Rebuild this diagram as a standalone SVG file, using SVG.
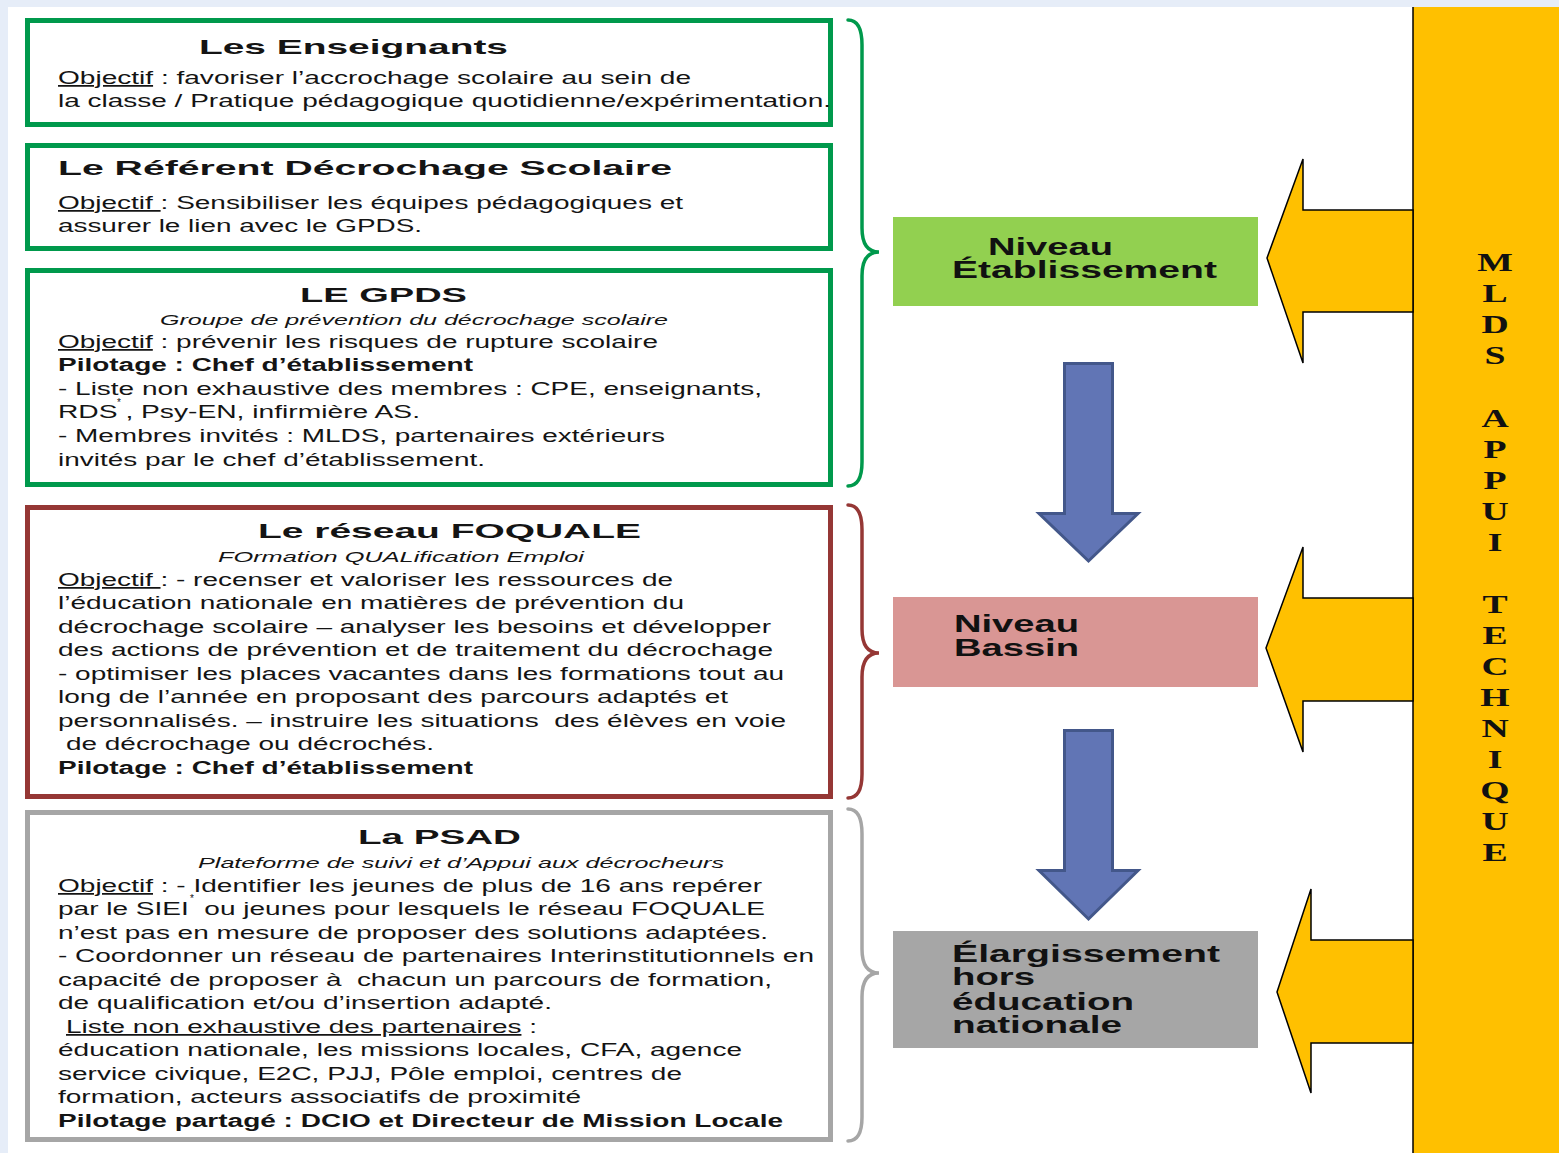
<svg xmlns="http://www.w3.org/2000/svg" width="1559" height="1153" viewBox="0 0 1559 1153">
<style>
.t{font-family:"Liberation Sans",Arial,sans-serif;fill:#141414}
.b{font-size:17.5px}
.h{font-size:21px;font-weight:bold}
.i{font-size:15px;font-style:italic}
.bd{font-weight:bold}
.u{text-decoration:underline}
.ast{font-size:10px}
.lvl{font-family:"Liberation Sans",Arial,sans-serif;font-size:23px;font-weight:bold;fill:#111}
.m{font-family:"Liberation Serif","Times New Roman",serif;font-size:26px;font-weight:bold;fill:#111;text-anchor:middle}
.box{fill:#fff;stroke-width:5}
.g{stroke:#00994C}
.r{stroke:#953735}
.gr{stroke:#A6A6A6}
.brace{fill:none;stroke-width:3.5;stroke-linecap:round}
.blue{fill:#6175B5;stroke:#43578A;stroke-width:3}
.yel{fill:#FFC000;stroke:#000;stroke-width:1.5}
</style>
<rect x="0" y="0" width="1559" height="1153" fill="#E6EDF8"/>
<rect x="8" y="7" width="1551" height="1146" fill="#fff"/>
<g id="mlds">
<rect x="1413" y="7" width="146" height="1146" fill="#FFC000"/>
<line x1="1413" y1="7" x2="1413" y2="1153" stroke="#000" stroke-width="1.5"/>
<g transform="translate(1495 0) scale(1.45 1)">
<text class="m" x="0" y="271">M</text>
<text class="m" x="0" y="302">L</text>
<text class="m" x="0" y="333">D</text>
<text class="m" x="0" y="364">S</text>
<text class="m" x="0" y="427">A</text>
<text class="m" x="0" y="458">P</text>
<text class="m" x="0" y="489">P</text>
<text class="m" x="0" y="520">U</text>
<text class="m" x="0" y="551">I</text>
<text class="m" x="0" y="613">T</text>
<text class="m" x="0" y="644">E</text>
<text class="m" x="0" y="675">C</text>
<text class="m" x="0" y="706">H</text>
<text class="m" x="0" y="737">N</text>
<text class="m" x="0" y="768">I</text>
<text class="m" x="0" y="799">Q</text>
<text class="m" x="0" y="830">U</text>
<text class="m" x="0" y="861">E</text>
</g>
</g>
<g id="connectors">
<path class="brace" stroke="#00994C" d="M848,20 Q862,20 862,45 L862,228 Q862,252 879,252 Q862,252 862,276 L862,462 Q862,486 848,486"/>
<path class="brace" stroke="#953735" d="M848,505 Q862,505 862,530 L862,629 Q862,653 879,653 Q862,653 862,677 L862,774 Q862,798 848,798"/>
<path class="brace" stroke="#A6A6A6" d="M848,809 Q862,809 862,834 L862,949 Q862,973 879,973 Q862,973 862,997 L862,1117 Q862,1141 848,1141"/>
<polygon class="blue" points="1064.5,363.5 1112.5,363.5 1112.5,513.5 1138,513.5 1088.5,561 1039,513.5 1064.5,513.5"/>
<polygon class="blue" points="1064.5,730.5 1112.5,730.5 1112.5,870.5 1138,870.5 1088.5,919 1039,870.5 1064.5,870.5"/>
<polygon class="yel" points="1413,210 1303,210 1303,159 1267,258 1303,363 1303,312 1413,312"/>
<polygon class="yel" points="1413,598 1303,598 1303,547 1266,648 1303,752 1303,701 1413,701"/>
<polygon class="yel" points="1413,940 1311,940 1311,889 1277,992 1311,1093 1311,1043 1413,1043"/>
</g>
<g id="n-enseignants">
<rect class="box g" x="27.5" y="20.5" width="803" height="104"/>
<text class="t h" x="199" y="54" textLength="309" lengthAdjust="spacingAndGlyphs">Les Enseignants</text>
<text class="t b" x="58" y="84" textLength="633" lengthAdjust="spacingAndGlyphs"><tspan class="u">Objectif</tspan> : favoriser l’accrochage scolaire au sein de</text>
<text class="t b" x="58" y="107" textLength="773" lengthAdjust="spacingAndGlyphs">la classe / Pratique pédagogique quotidienne/expérimentation.</text>
</g>
<g id="n-referent">
<rect class="box g" x="27.5" y="145.5" width="803" height="103"/>
<text class="t h" x="58" y="175" textLength="614" lengthAdjust="spacingAndGlyphs">Le Référent Décrochage Scolaire</text>
<text class="t b" x="58" y="209" textLength="625" lengthAdjust="spacingAndGlyphs"><tspan class="u">Objectif </tspan>: Sensibiliser les équipes pédagogiques et</text>
<text class="t b" x="58" y="232" textLength="364" lengthAdjust="spacingAndGlyphs">assurer le lien avec le GPDS.</text>
</g>
<g id="n-gpds">
<rect class="box g" x="27.5" y="270.5" width="803" height="214"/>
<text class="t h" x="300" y="302" textLength="167" lengthAdjust="spacingAndGlyphs">LE GPDS</text>
<text class="t i" x="160" y="325" textLength="508" lengthAdjust="spacingAndGlyphs">Groupe de prévention du décrochage scolaire</text>
<text class="t b" x="58" y="348" textLength="600" lengthAdjust="spacingAndGlyphs"><tspan class="u">Objectif</tspan> : prévenir les risques de rupture scolaire</text>
<text class="t b bd" x="58" y="371" textLength="415" lengthAdjust="spacingAndGlyphs">Pilotage : Chef d’établissement</text>
<text class="t b" x="58" y="395" textLength="704" lengthAdjust="spacingAndGlyphs">- Liste non exhaustive des membres : CPE, enseignants,</text>
<text class="t ast" x="117" y="406">*</text>
<text class="t b" x="58" y="418" textLength="362" lengthAdjust="spacingAndGlyphs">RDS , Psy-EN, infirmière AS.</text>
<text class="t b" x="58" y="442" textLength="607" lengthAdjust="spacingAndGlyphs">- Membres invités : MLDS, partenaires extérieurs</text>
<text class="t b" x="58" y="466" textLength="427" lengthAdjust="spacingAndGlyphs">invités par le chef d’établissement.</text>
</g>
<g id="n-foquale">
<rect class="box r" x="27.5" y="507.5" width="803" height="289"/>
<text class="t h" x="258" y="538" textLength="383" lengthAdjust="spacingAndGlyphs">Le réseau FOQUALE</text>
<text class="t i" x="218" y="562" textLength="366" lengthAdjust="spacingAndGlyphs">FOrmation QUALification Emploi</text>
<text class="t b" x="58" y="586" textLength="615" lengthAdjust="spacingAndGlyphs"><tspan class="u">Objectif </tspan>: - recenser et valoriser les ressources de</text>
<text class="t b" x="58" y="609" textLength="626" lengthAdjust="spacingAndGlyphs">l’éducation nationale en matières de prévention du</text>
<text class="t b" x="58" y="633" textLength="713" lengthAdjust="spacingAndGlyphs">décrochage scolaire – analyser les besoins et développer</text>
<text class="t b" x="58" y="656" textLength="715" lengthAdjust="spacingAndGlyphs">des actions de prévention et de traitement du décrochage</text>
<text class="t b" x="58" y="680" textLength="726" lengthAdjust="spacingAndGlyphs">- optimiser les places vacantes dans les formations tout au</text>
<text class="t b" x="58" y="703" textLength="670" lengthAdjust="spacingAndGlyphs">long de l’année en proposant des parcours adaptés et</text>
<text class="t b" x="58" y="727" textLength="728" lengthAdjust="spacingAndGlyphs" xml:space="preserve">personnalisés. – instruire les situations  des élèves en voie</text>
<text class="t b" x="66" y="750" textLength="368" lengthAdjust="spacingAndGlyphs">de décrochage ou décrochés.</text>
<text class="t b bd" x="58" y="774" textLength="415" lengthAdjust="spacingAndGlyphs">Pilotage : Chef d’établissement</text>
</g>
<g id="n-psad">
<rect class="box gr" x="27.5" y="812.5" width="803" height="327"/>
<text class="t h" x="358" y="844" textLength="163" lengthAdjust="spacingAndGlyphs">La PSAD</text>
<text class="t i" x="198" y="868" textLength="526" lengthAdjust="spacingAndGlyphs">Plateforme de suivi et d’Appui aux décrocheurs</text>
<text class="t b" x="58" y="892" textLength="704" lengthAdjust="spacingAndGlyphs"><tspan class="u">Objectif</tspan> : - Identifier les jeunes de plus de 16 ans repérer</text>
<text class="t ast" x="190" y="902">*</text>
<text class="t b" x="58" y="915" textLength="707" lengthAdjust="spacingAndGlyphs" xml:space="preserve">par le SIEI  ou jeunes pour lesquels le réseau FOQUALE</text>
<text class="t b" x="58" y="939" textLength="710" lengthAdjust="spacingAndGlyphs">n’est pas en mesure de proposer des solutions adaptées.</text>
<text class="t b" x="58" y="962" textLength="756" lengthAdjust="spacingAndGlyphs">- Coordonner un réseau de partenaires Interinstitutionnels en</text>
<text class="t b" x="58" y="986" textLength="714" lengthAdjust="spacingAndGlyphs" xml:space="preserve">capacité de proposer à  chacun un parcours de formation,</text>
<text class="t b" x="58" y="1009" textLength="494" lengthAdjust="spacingAndGlyphs">de qualification et/ou d’insertion adapté.</text>
<text class="t b" x="66" y="1033" textLength="471" lengthAdjust="spacingAndGlyphs"><tspan class="u">Liste non exhaustive des partenaires</tspan> :</text>
<text class="t b" x="58" y="1056" textLength="684" lengthAdjust="spacingAndGlyphs">éducation nationale, les missions locales, CFA, agence</text>
<text class="t b" x="58" y="1080" textLength="624" lengthAdjust="spacingAndGlyphs">service civique, E2C, PJJ, Pôle emploi, centres de</text>
<text class="t b" x="58" y="1103" textLength="523" lengthAdjust="spacingAndGlyphs">formation, acteurs associatifs de proximité</text>
<text class="t b bd" x="58" y="1127" textLength="725" lengthAdjust="spacingAndGlyphs">Pilotage partagé : DCIO et Directeur de Mission Locale</text>
</g>
<g id="n-etablissement">
<rect x="893" y="217" width="365" height="89" fill="#92D050"/>
<text class="lvl" x="988" y="255" textLength="125" lengthAdjust="spacingAndGlyphs">Niveau</text>
<text class="lvl" x="952" y="278" textLength="265" lengthAdjust="spacingAndGlyphs">Établissement</text>
</g>
<g id="n-bassin">
<rect x="893" y="597" width="365" height="90" fill="#D99694"/>
<text class="lvl" x="954" y="632" textLength="125" lengthAdjust="spacingAndGlyphs">Niveau</text>
<text class="lvl" x="954" y="656" textLength="125" lengthAdjust="spacingAndGlyphs">Bassin</text>
</g>
<g id="n-elargissement">
<rect x="893" y="931" width="365" height="117" fill="#A6A6A6"/>
<text class="lvl" x="952" y="962" textLength="268" lengthAdjust="spacingAndGlyphs">Élargissement</text>
<text class="lvl" x="952" y="985" textLength="83" lengthAdjust="spacingAndGlyphs">hors</text>
<text class="lvl" x="952" y="1010" textLength="182" lengthAdjust="spacingAndGlyphs">éducation</text>
<text class="lvl" x="952" y="1033" textLength="170" lengthAdjust="spacingAndGlyphs">nationale</text>
</g>
</svg>
